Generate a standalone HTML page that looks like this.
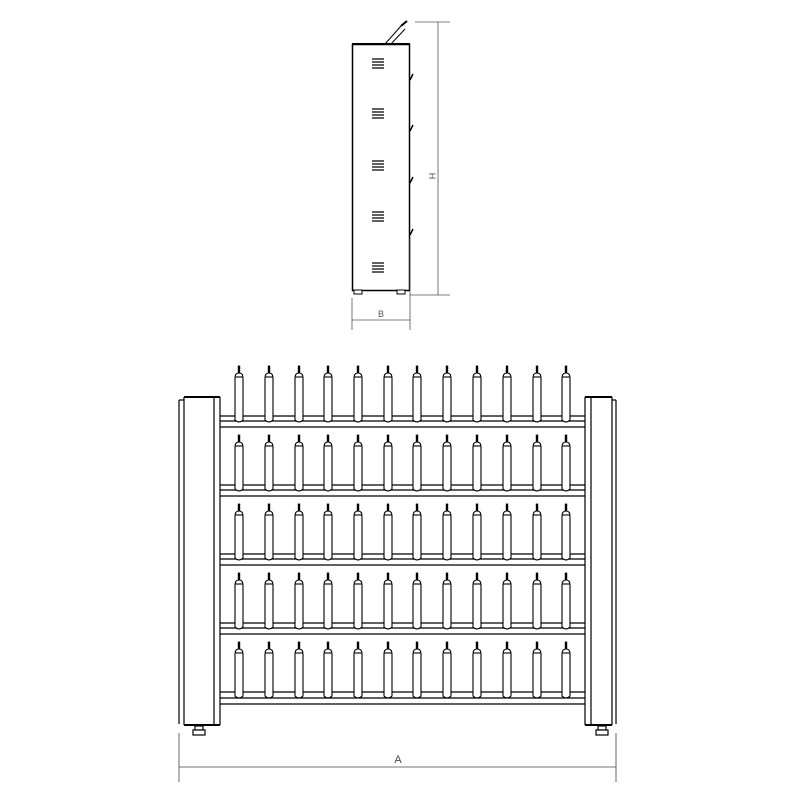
<!DOCTYPE html>
<html><head><meta charset="utf-8"><style>html,body{margin:0;padding:0;background:#fff}svg{display:block}</style></head>
<body>
<svg width="800" height="800" viewBox="0 0 800 800" xmlns="http://www.w3.org/2000/svg" font-family="Liberation Sans, sans-serif">
<rect width="800" height="800" fill="#fff"/>
<g id="top" stroke="#000" fill="none" stroke-width="1">
  <line x1="385" y1="44" x2="401" y2="26"/>
  <line x1="391" y1="44" x2="405" y2="29"/>
  <line x1="401" y1="26" x2="407" y2="21" stroke-width="2"/>
  <rect x="352.5" y="44.5" width="57" height="246" stroke-width="1.5"/>
  <line x1="352" y1="44" x2="410" y2="44" stroke-width="2"/>
  <g stroke-width="1.3">
    <path d="M372 59h12M372 62h12M372 65h12M372 68h12"/>
    <path d="M372 109h12M372 112h12M372 115h12M372 118h12"/>
    <path d="M372 161h12M372 164h12M372 167h12M372 170h12"/>
    <path d="M372 212h12M372 215h12M372 218h12M372 221h12"/>
    <path d="M372 263h12M372 266h12M372 269h12M372 272h12"/>
  </g>
  <g stroke-width="1.5">
    <line x1="410" y1="80" x2="413" y2="74"/>
    <line x1="410" y1="131" x2="413" y2="125"/>
    <line x1="410" y1="183" x2="413" y2="177"/>
    <line x1="410" y1="235" x2="413" y2="229"/>
  </g>
  <rect x="354" y="290" width="8" height="4" fill="#fff"/>
  <rect x="397" y="290" width="8" height="4" fill="#fff"/>
  <g stroke="#555" stroke-width="0.8">
    <line x1="415" y1="22" x2="450" y2="22"/>
    <line x1="438" y1="22" x2="438" y2="295"/>
    <line x1="410" y1="295" x2="450" y2="295"/>
    <line x1="352" y1="298" x2="352" y2="330"/>
    <line x1="410" y1="238" x2="410" y2="330"/>
    <line x1="352" y1="320" x2="410" y2="320"/>
  </g>
  <text x="381" y="317" font-size="9" fill="#555" stroke="none" text-anchor="middle">B</text>
  <text x="0" y="0" font-size="9" fill="#555" stroke="none" text-anchor="middle" transform="translate(429,176) rotate(90)">H</text>
</g>
<g id="front" stroke="#000" fill="none" stroke-width="1.2">
  <g id="rails">
    <path d="M220 416H585M220 421H585M220 427H585"/>
    <path d="M220 485H585M220 490H585M220 496H585"/>
    <path d="M220 554H585M220 559H585M220 565H585"/>
    <path d="M220 623H585M220 628H585M220 634H585"/>
    <path d="M220 692H585M220 698H585M220 704H585"/>
  </g>
  <line x1="179" y1="400" x2="179" y2="724"/>
  <line x1="184" y1="397" x2="184" y2="725"/>
  <line x1="214" y1="397" x2="214" y2="725"/>
  <line x1="220" y1="397" x2="220" y2="725"/>
  <line x1="179" y1="400" x2="184" y2="400"/>
  <line x1="184" y1="397" x2="220" y2="397" stroke-width="2"/>
  <line x1="184" y1="725" x2="220" y2="725" stroke-width="2"/>
  <rect x="195" y="726" width="8" height="4" fill="#fff"/>
  <rect x="193" y="730" width="12" height="5" fill="#fff"/>
  <line x1="585" y1="397" x2="585" y2="725"/>
  <line x1="591" y1="397" x2="591" y2="725"/>
  <line x1="612" y1="397" x2="612" y2="725"/>
  <line x1="616" y1="400" x2="616" y2="724"/>
  <line x1="612" y1="400" x2="616" y2="400"/>
  <line x1="585" y1="397" x2="612" y2="397" stroke-width="2"/>
  <line x1="585" y1="725" x2="612" y2="725" stroke-width="2"/>
  <rect x="598" y="726" width="8" height="4" fill="#fff"/>
  <rect x="596" y="730" width="12" height="5" fill="#fff"/>
  <defs>
    <g id="peg" stroke="#000" stroke-width="1.1" fill="#fff">
      <path d="M-4 420 V378 Q-4 373 0 373 Q4 373 4 378 V420 Q0 424 -4 420Z"/>
      <path d="M-3.5 377 H3.5"/>
      <rect x="-0.8" y="366" width="1.6" height="7" fill="#000" stroke-width="0.8"/>
    </g>
    <g id="row">
      <use href="#peg" x="239"/><use href="#peg" x="269"/><use href="#peg" x="299"/>
      <use href="#peg" x="328"/><use href="#peg" x="358"/><use href="#peg" x="388"/>
      <use href="#peg" x="417"/><use href="#peg" x="447"/><use href="#peg" x="477"/>
      <use href="#peg" x="507"/><use href="#peg" x="537"/><use href="#peg" x="566"/>
    </g>
  </defs>
  <use href="#row" y="0"/>
  <use href="#row" y="69"/>
  <use href="#row" y="138"/>
  <use href="#row" y="207"/>
  <use href="#row" y="276"/>
  <g stroke="#444" stroke-width="0.8">
    <line x1="179" y1="733" x2="179" y2="782"/>
    <line x1="616" y1="733" x2="616" y2="782"/>
    <line x1="179" y1="767" x2="616" y2="767"/>
  </g>
  <text x="398" y="763" font-size="11" fill="#444" stroke="none" text-anchor="middle">A</text>
</g>
</svg>
</body></html>
